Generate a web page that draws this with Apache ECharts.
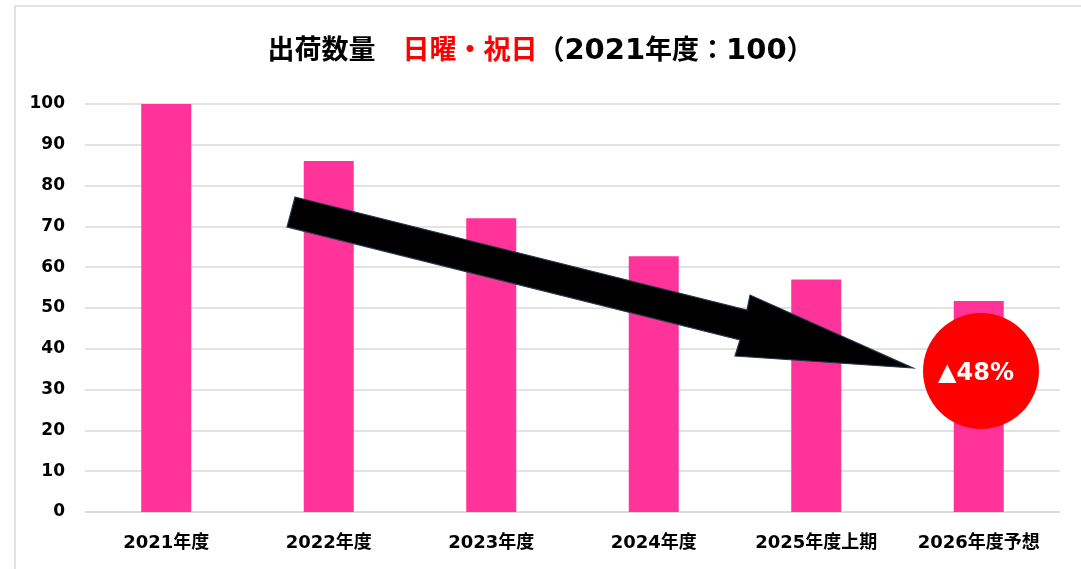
<!DOCTYPE html>
<html>
<head>
<meta charset="utf-8">
<script src="https://cdn.jsdelivr.net/npm/echarts@6/dist/echarts.min.js"></script>
<style>
  html, body { margin: 0; padding: 0; background: #fff; }
  #main { width: 1081px; height: 569px; }
</style>
</head>
<body>
<div id="main"></div>
<script>
// data
var categories = ['2021年度', '2022年度', '2023年度', '2024年度', '2025年度上期', '2026年度予想'];
var shipIndex = [100, 86, 72, 62.7, 57, 51.7];
var yTicks = [0, 10, 20, 30, 40, 50, 60, 70, 80, 90, 100];
var badgeText = '▲48%';

var chart = echarts.init(document.getElementById('main'), null, { renderer: 'canvas' });
var FONT = 'DejaVu Sans, Noto Sans CJK JP, sans-serif';
var TITLE_FONT = 'Noto Sans CJK JP, sans-serif';

var option = {
  backgroundColor: '#fff',
  animation: false,
  title: {
    text: '{k|出荷数量　}{r|日曜・祝日}{k|（}{n|2021}{k|年度：}{n|100}{k|）}',
    left: 'center',
    top: 26,
    textStyle: {
      rich: {
        k: { fontFamily: TITLE_FONT, fontWeight: 'bold', fontSize: 27, color: '#000' },
        r: { fontFamily: TITLE_FONT, fontWeight: 'bold', fontSize: 27, color: '#ff0000' },
        n: { fontFamily: FONT, fontWeight: 'bold', fontSize: 29, color: '#000', padding: [6, 0, 0, 0] }
      }
    }
  },
  grid: { left: 85, right: 21, top: 104, bottom: 57 },
  xAxis: {
    type: 'category',
    data: categories,
    axisTick: { show: false },
    axisLine: { lineStyle: { color: '#d9d9d9', width: 1.5 } },
    axisLabel: { color: '#000', fontFamily: FONT, fontWeight: 'bold', fontSize: 18, margin: 22 }
  },
  yAxis: {
    type: 'value',
    min: yTicks[0],
    max: yTicks[yTicks.length - 1],
    interval: 10,
    axisLine: { show: false },
    axisTick: { show: false },
    splitLine: { lineStyle: { color: '#d9d9d9', width: 1.5 } },
    axisLabel: { color: '#000', fontFamily: FONT, fontWeight: 'bold', fontSize: 17, margin: 20 }
  },
  series: [{
    type: 'bar',
    data: shipIndex,
    barWidth: 50,
    itemStyle: { color: '#ff3399' }
  }],
  graphic: [
    // outer frame
    {
      type: 'rect',
      shape: { x: 15, y: 6, width: 1100, height: 600 },
      style: { fill: 'none', stroke: '#d9d9d9', lineWidth: 1.5 },
      z: 0
    },
    // trend arrow
    {
      type: 'polygon',
      shape: {
        points: [[295, 197], [747, 310], [750, 295], [913, 368], [735, 356], [740, 340], [287, 227]]
      },
      style: { fill: '#000', stroke: '#1f3a4d', lineWidth: 1.2 },
      z: 10
    },
    // red badge
    {
      type: 'circle',
      shape: { cx: 981, cy: 371, r: 58 },
      style: { fill: '#ff0000' },
      z: 10
    },
    {
      type: 'text',
      x: 976, y: 374,
      style: {
        text: badgeText,
        fill: '#fff',
        font: 'bold 24px DejaVu Sans, Noto Sans CJK JP, sans-serif',
        align: 'center',
        verticalAlign: 'middle'
      },
      z: 11
    }
  ]
};

chart.setOption(option);
</script>
</body>
</html>
